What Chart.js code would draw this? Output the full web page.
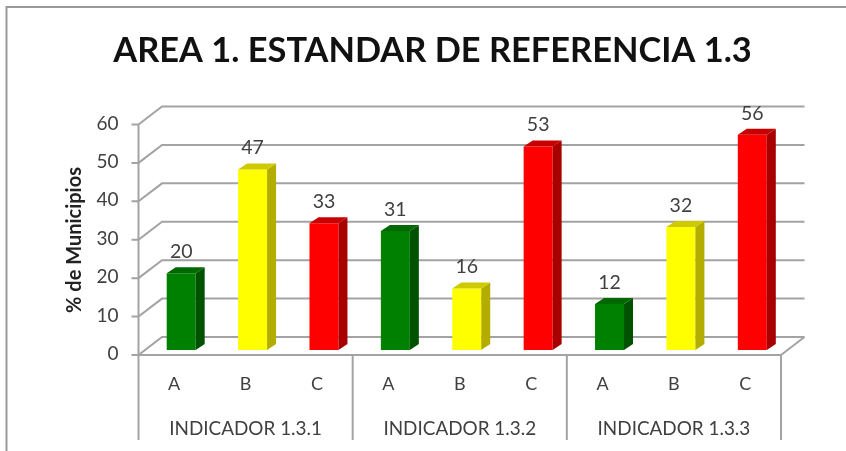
<!DOCTYPE html>
<html><head><meta charset="utf-8">
<style>html,body{margin:0;padding:0;background:#fff;overflow:hidden}
#w{position:absolute;left:0;top:0;width:846px;height:451px}
canvas{filter:blur(0.5px)}</style>
<script src="https://cdn.jsdelivr.net/npm/chart.js@4"></script>
</head><body><div id="w"><canvas id="c" width="846" height="451"></canvas></div>
<script>
const chartTitle = 'AREA 1. ESTANDAR DE REFERENCIA 1.3';
const yAxisTitle = '% de Municipios';
const categories = ['A','B','C','A','B','C','A','B','C'];
const groups = ['INDICADOR 1.3.1','INDICADOR 1.3.2','INDICADOR 1.3.3'];
const values = [20,47,33,31,16,53,12,32,56];
const frontColors = ['#008000','#ffff00','#ff0000','#008000','#ffff00','#ff0000','#008000','#ffff00','#ff0000'];
const sideColors  = ['#005200','#b3ad00','#a80000','#005200','#b3ad00','#a80000','#005200','#b3ad00','#a80000'];
const topColors   = ['#006800','#cfc900','#c80000','#006800','#cfc900','#c80000','#006800','#cfc900','#c80000'];
const FONT = 'Lato, Carlito, sans-serif';
const GRID = '#a3a3a3', TXT = '#404040';

const frontDX=-7, frontDY=5, backDX=16.5, backDY=-13, depthX=9, depthY=-6, axisBottom=440;

const walls = {
  id:'walls',
  beforeDatasetsDraw(ch){
    const {ctx,chartArea:a,scales:{x,y}} = ch;
    ctx.save();
    // page frame
    ctx.strokeStyle='#9a9a9a'; ctx.lineWidth=2;
    ctx.beginPath(); ctx.moveTo(6.5,451); ctx.lineTo(6.5,7); ctx.lineTo(846,7); ctx.stroke();
    // titles
    ctx.fillStyle='#111'; ctx.font='bold 34.4px '+FONT; ctx.textAlign='center'; ctx.textBaseline='middle';
    ctx.fillText(chartTitle,432.5,51);
    ctx.save();
    ctx.translate(75,240); ctx.rotate(-Math.PI/2);
    ctx.fillStyle='#222'; ctx.font='bold 20px '+FONT;
    ctx.fillText(yAxisTitle,0,0);
    ctx.restore();
    ctx.strokeStyle=GRID; ctx.lineWidth=2;
    const fl=a.left+frontDX, fr=a.right+frontDX, bl=a.left+backDX, br=a.right+backDX;
    y.ticks.forEach(t=>{
      const p=y.getPixelForValue(t.value);
      ctx.beginPath();
      ctx.moveTo(fl-7,p+frontDY); ctx.lineTo(fl,p+frontDY);
      ctx.lineTo(bl,p+backDY); ctx.lineTo(br,p+backDY);
      ctx.stroke();
    });
    const z=y.getPixelForValue(0), t=y.getPixelForValue(60);
    ctx.beginPath(); ctx.moveTo(fl,t+frontDY); ctx.lineTo(fl,axisBottom); ctx.stroke();
    ctx.beginPath(); ctx.moveTo(fl,z+frontDY); ctx.lineTo(fr,z+frontDY); ctx.lineTo(br,z+backDY); ctx.stroke();
    groups.forEach((g,i)=>{
      const px=x.getPixelForValue(3*i+2)+x.width/18+frontDX;
      ctx.beginPath(); ctx.moveTo(px,z+frontDY); ctx.lineTo(px,axisBottom); ctx.stroke();
    });
    ctx.restore();
  },
  afterDatasetsDraw(ch){
    const {ctx} = ch, m=ch.getDatasetMeta(0);
    ctx.save();
    m.data.forEach((b,i)=>{
      const w=b.width, l=b.x-w/2, r=b.x+w/2, t=b.y, bt=b.base;
      ctx.fillStyle=sideColors[i];
      ctx.beginPath(); ctx.moveTo(r,t); ctx.lineTo(r+depthX,t+depthY); ctx.lineTo(r+depthX,bt+depthY); ctx.lineTo(r,bt); ctx.closePath(); ctx.fill();
      ctx.fillStyle=topColors[i];
      ctx.beginPath(); ctx.moveTo(l,t); ctx.lineTo(l+depthX,t+depthY); ctx.lineTo(r+depthX,t+depthY); ctx.lineTo(r,t); ctx.closePath(); ctx.fill();
      ctx.fillStyle=TXT; ctx.font='19.5px '+FONT; ctx.textAlign='center'; ctx.textBaseline='middle';
      ctx.fillText(String(values[i]), b.x, t-21.5);
    });
    ctx.restore();
  }
};

new Chart(document.getElementById('c'),{
  type:'bar',
  data:{labels:categories,datasets:[{data:values,backgroundColor:frontColors,barPercentage:1,categoryPercentage:0.406,borderWidth:0}]},
  plugins:[walls],
  options:{
    responsive:false,animation:false,
    layout:{padding:{left:60,right:58,top:119.5,bottom:0}},
    plugins:{
      legend:{display:false},tooltip:{enabled:false},title:{display:false}
    },
    scales:{
      y:{min:0,max:60,position:'left',
        afterFit(s){s.width=85.5;},
        border:{display:false},grid:{display:false,drawTicks:false},
        ticks:{stepSize:10,color:TXT,font:{family:FONT,size:19},padding:27,labelOffset:4}
      },
      x:{position:'bottom',weight:1,offset:true,
        afterFit(s){s.height=60;},
        border:{display:false},grid:{display:false,drawTicks:false},
        ticks:{color:TXT,font:{family:FONT,size:18},padding:23,labelOffset:-7,autoSkip:false,maxRotation:0}
      },
      x2:{type:'category',labels:groups,position:'bottom',weight:2,offset:true,
        afterFit(s){s.height=41;},
        border:{display:false},grid:{display:false,drawTicks:false},
        ticks:{color:TXT,font:{family:FONT,size:18.9},padding:8,labelOffset:-7,autoSkip:false,maxRotation:0}
      }
    }
  }
});
</script></body></html>
